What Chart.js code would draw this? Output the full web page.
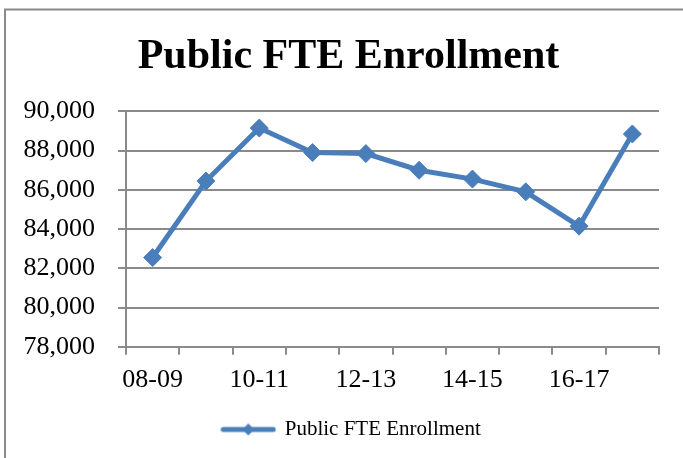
<!DOCTYPE html>
<html>
<head>
<meta charset="utf-8">
<script src="https://cdn.jsdelivr.net/npm/chart.js@4.4.0/dist/chart.umd.min.js"></script>
<style>
  html, body { margin: 0; padding: 0; background: #ffffff; }
  #wrap { width: 683px; height: 458px; position: relative; }
</style>
</head>
<body>
<div id="wrap"><canvas id="c" width="683" height="458"></canvas></div>
<script>
const categories = ['08-09', '09-10', '10-11', '11-12', '12-13', '13-14', '14-15', '15-16', '16-17', '17-18'];
const enrollment = [82550, 86450, 89150, 87900, 87850, 87000, 86550, 85900, 84150, 88850];
const seriesName = 'Public FTE Enrollment';
const chartTitle = 'Public FTE Enrollment';
const yMin = 78000;
const yMax = 90000;
const yStep = 2000;

const BLUE = '#4A7EBB';
const GRID = '#8a8a8a';
const SERIF = "'Liberation Serif', 'Times New Roman', serif";

// legend symbol: line with diamond
const sym = document.createElement('canvas');
sym.width = 56; sym.height = 18;
(function () {
  const g = sym.getContext('2d');
  g.strokeStyle = BLUE; g.lineWidth = 5; g.lineCap = 'round';
  g.beginPath(); g.moveTo(3, 9); g.lineTo(53, 9); g.stroke();
  g.fillStyle = BLUE;
  g.beginPath(); g.moveTo(28 - 6, 9); g.lineTo(28, 3); g.lineTo(28 + 6, 9); g.lineTo(28, 15); g.closePath(); g.fill();
})();

const frame = {
  id: 'frame',
  afterLayout(chart) {
    // centre title and legend across the whole frame as in the reference
    if (chart.titleBlock) { chart.titleBlock.left += 19; chart.titleBlock.right += 19; }
    if (chart.legend) { chart.legend.left += 22; chart.legend.right += 22; }
  },
  beforeDraw(chart) {
    const ctx = chart.ctx;
    ctx.save();
    ctx.strokeStyle = '#8a8a8a';
    ctx.lineWidth = 2;
    ctx.beginPath();
    ctx.moveTo(5, 458); ctx.lineTo(5, 9.5); ctx.lineTo(683, 9.5);
    ctx.stroke();
    ctx.restore();
  }
};

new Chart(document.getElementById('c'), {
  type: 'line',
  data: {
    labels: categories,
    datasets: [{
      label: seriesName,
      data: enrollment,
      borderColor: BLUE,
      backgroundColor: BLUE,
      borderWidth: 5,
      tension: 0,
      pointStyle: 'rectRot',
      pointRadius: 9,
      pointBorderWidth: 1,
      pointBackgroundColor: BLUE,
      pointBorderColor: BLUE
    }]
  },
  options: {
    responsive: false,
    devicePixelRatio: 1,
    animation: false,
    events: [],
    layout: { padding: { left: 0, right: 24, top: 0, bottom: 8 } },
    plugins: {
      title: {
        display: true,
        text: chartTitle,
        color: '#000000',
        font: { family: SERIF, size: 42, weight: 'bold' },
        padding: { top: 32, bottom: 29 }
      },
      legend: {
        display: true,
        position: 'bottom',
        labels: {
          usePointStyle: true,
          pointStyle: sym,
          pointStyleWidth: 52,
          color: '#000000',
          font: { family: SERIF, size: 21 },
          padding: 13,
          generateLabels(chart) {
            return [{ text: seriesName, pointStyle: sym, fillStyle: BLUE, strokeStyle: BLUE, lineWidth: 0, datasetIndex: 0 }];
          }
        }
      },
      tooltip: { enabled: false }
    },
    scales: {
      x: {
        type: 'category',
        offset: true,
        grid: { display: true, drawOnChartArea: false, drawTicks: true, tickLength: 8, offset: true, color: GRID, lineWidth: 2 },
        border: { display: true, color: GRID, width: 2 },
        ticks: {
          autoSkip: false, maxRotation: 0, minRotation: 0, padding: 10,
          color: '#000000',
          font: { family: SERIF, size: 26 },
          callback: function (v, i) { return i % 2 === 0 ? categories[i] : ''; }
        }
      },
      y: {
        min: yMin, max: yMax,
        afterFit(scale) { scale.width = 126; },
        grid: { display: true, drawTicks: true, tickLength: 8, color: GRID, lineWidth: 2 },
        border: { display: true, color: GRID, width: 2 },
        ticks: {
          stepSize: yStep, padding: 23,
          color: '#000000',
          font: { family: SERIF, size: 26 },
          callback: function (v) { return v.toLocaleString('en-US'); }
        }
      }
    }
  },
  plugins: [frame]
});
</script>
</body>
</html>
